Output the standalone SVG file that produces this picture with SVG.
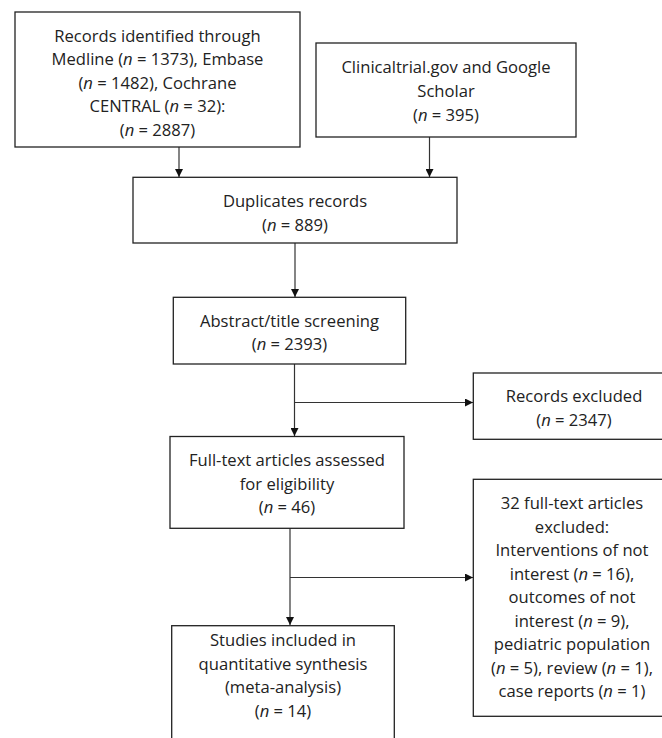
<svg xmlns="http://www.w3.org/2000/svg" width="662" height="738" viewBox="0 0 662 738">
<style>
.box{fill:#fff;stroke:#222;stroke-width:1.3}
.t{font-family:"Open Sans","Liberation Sans",sans-serif;font-size:16.6px;fill:#222;text-anchor:middle}
.i{font-style:italic}
.c{fill:none;stroke:#333;stroke-width:1.2}
</style>
<defs>
<marker id="ah" viewBox="0 0 10 10" refX="10" refY="5" markerWidth="8" markerHeight="8" markerUnits="userSpaceOnUse" orient="auto">
<path d="M0,0 L10,5 L0,10 Z" fill="#111"/>
</marker>
</defs>
<rect width="662" height="738" fill="#fff"/>
<g id="connectors">
<line class="c" x1="179" y1="147" x2="179" y2="177" marker-end="url(#ah)"/>
<line class="c" x1="429.5" y1="137" x2="429.5" y2="177" marker-end="url(#ah)"/>
<line class="c" x1="295" y1="243" x2="295" y2="297" marker-end="url(#ah)"/>
<line class="c" x1="294.5" y1="364" x2="294.5" y2="436" marker-end="url(#ah)"/>
<line class="c" x1="294.5" y1="402.5" x2="473" y2="402.5" marker-end="url(#ah)"/>
<line class="c" x1="290" y1="528" x2="290" y2="625" marker-end="url(#ah)"/>
<line class="c" x1="290" y1="577.5" x2="473" y2="577.5" marker-end="url(#ah)"/>
</g>
<g id="records-identified">
<rect class="box" x="15" y="12" width="285" height="135"/>
<text class="t" x="157.5" y="41.7">Records identified through</text>
<text class="t" x="157.5" y="65.2">Medline (<tspan class="i">n</tspan> = 1373), Embase</text>
<text class="t" x="157.5" y="88.7">(<tspan class="i">n</tspan> = 1482), Cochrane</text>
<text class="t" x="157.5" y="112.2">CENTRAL (<tspan class="i">n</tspan> = 32):</text>
<text class="t" x="157.5" y="135.7">(<tspan class="i">n</tspan> = 2887)</text>
</g>
<g id="clinicaltrial">
<rect class="box" x="316" y="43" width="260" height="94"/>
<text class="t" x="446" y="73.3">Clinicaltrial.gov and Google</text>
<text class="t" x="446" y="97.3">Scholar</text>
<text class="t" x="446" y="120.8">(<tspan class="i">n</tspan> = 395)</text>
</g>
<g id="duplicates">
<rect class="box" x="133" y="177.3" width="324" height="65.7"/>
<text class="t" x="295" y="206.7">Duplicates records</text>
<text class="t" x="295" y="231">(<tspan class="i">n</tspan> = 889)</text>
</g>
<g id="abstract-screening">
<rect class="box" x="173.3" y="297.3" width="232.4" height="66.7"/>
<text class="t" x="289.5" y="326.7">Abstract/title screening</text>
<text class="t" x="289.5" y="350">(<tspan class="i">n</tspan> = 2393)</text>
</g>
<g id="records-excluded">
<rect class="box" x="473.3" y="373" width="202" height="66.3"/>
<text class="t" x="574" y="402.3">Records excluded</text>
<text class="t" x="574" y="426">(<tspan class="i">n</tspan> = 2347)</text>
</g>
<g id="full-text">
<rect class="box" x="170" y="436.5" width="234" height="91.8"/>
<text class="t" x="287" y="466">Full-text articles assessed</text>
<text class="t" x="287" y="489.5">for eligibility</text>
<text class="t" x="287" y="513">(<tspan class="i">n</tspan> = 46)</text>
</g>
<g id="fulltext-excluded">
<rect class="box" x="473.3" y="479.3" width="198" height="237"/>
<text class="t" x="572" y="509.3">32 full-text articles</text>
<text class="t" x="572" y="532.8">excluded:</text>
<text class="t" x="572" y="556.3">Interventions of not</text>
<text class="t" x="572" y="579.8">interest (<tspan class="i">n</tspan> = 16),</text>
<text class="t" x="572" y="603.3">outcomes of not</text>
<text class="t" x="572" y="626.8">interest (<tspan class="i">n</tspan> = 9),</text>
<text class="t" x="572" y="650.3">pediatric population</text>
<text class="t" x="572" y="673.8">(<tspan class="i">n</tspan> = 5), review (<tspan class="i">n</tspan> = 1),</text>
<text class="t" x="572" y="697.3">case reports (<tspan class="i">n</tspan> = 1)</text>
</g>
<g id="studies-included">
<rect class="box" x="171.7" y="625.7" width="222.6" height="130"/>
<text class="t" x="283" y="646">Studies included in</text>
<text class="t" x="283" y="669.5">quantitative synthesis</text>
<text class="t" x="283" y="693">(meta-analysis)</text>
<text class="t" x="283" y="716.5">(<tspan class="i">n</tspan> = 14)</text>
</g>
</svg>
